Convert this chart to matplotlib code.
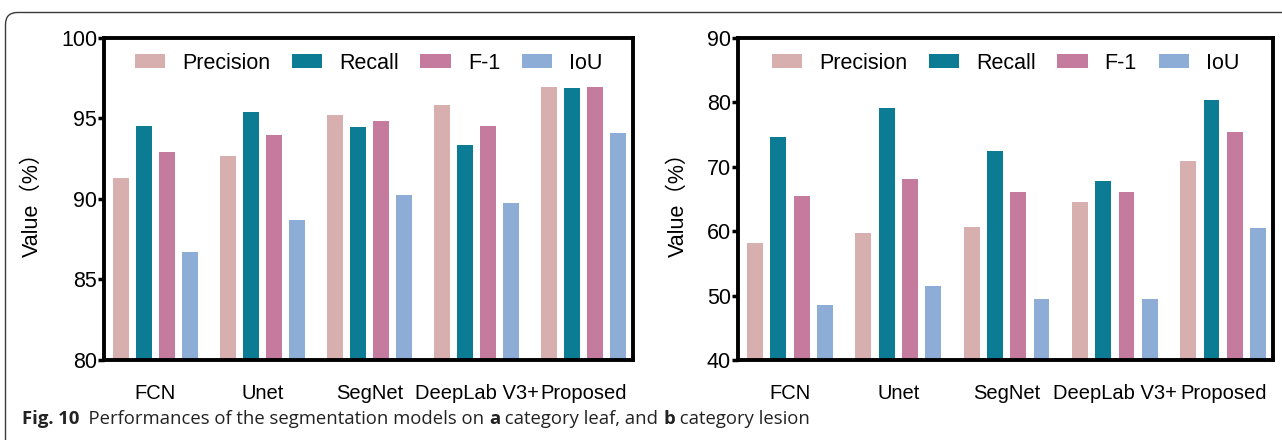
import numpy as np
import matplotlib.pyplot as plt
from matplotlib import font_manager
from matplotlib.patches import FancyBboxPatch

models = ["FCN", "Unet", "SegNet", "DeepLab V3+", "Proposed"]
metrics = ["Precision", "Recall", "F-1", "IoU"]
colors = ["#D7AFAF", "#0B7C94", "#C47B9D", "#8DACD6"]

# (a) category leaf
leaf_precision = [91.3, 92.7, 95.2, 95.85, 96.95]
leaf_recall = [94.55, 95.4, 94.5, 93.35, 96.9]
leaf_f1 = [92.9, 94.0, 94.85, 94.55, 96.95]
leaf_iou = [86.7, 88.7, 90.25, 89.75, 94.1]

# (b) category lesion
lesion_precision = [58.1, 59.7, 60.7, 64.6, 70.9]
lesion_recall = [74.7, 79.1, 72.5, 67.8, 80.3]
lesion_f1 = [65.4, 68.1, 66.1, 66.1, 75.4]
lesion_iou = [48.6, 51.5, 49.4, 49.4, 60.5]

caption = [("Fig. 10", "bold"), ("  Performances of the segmentation models on ", "normal"),
           ("a", "bold"), (" category leaf, and ", "normal"), ("b", "bold"),
           (" category lesion", "normal")]

installed = {f.name for f in font_manager.fontManager.ttflist}
base = "Liberation Sans Narrow" if "Liberation Sans Narrow" in installed else "Liberation Sans"
LAB = [base, "Noto Sans CJK SC", "DejaVu Sans"]

W, H = 1282, 440
fig = plt.figure(figsize=(W / 100, H / 100), dpi=100)

# outer rounded frame
bg = fig.add_axes([0, 0, 1, 1])
bg.set_xlim(0, W)
bg.set_ylim(H, 0)
bg.axis("off")
bg.add_patch(FancyBboxPatch((5.5, 12.5), W + 50, H + 50,
                            boxstyle="round,pad=0,rounding_size=12",
                            fc="none", ec="#3a3a3a", lw=1.0, clip_on=False))


def panel(rect, series, ylim, yticks):
    ax = fig.add_axes(rect)
    x = np.arange(len(models))
    pitch, width = 0.215, 0.146
    for k, (vals, name) in enumerate(zip(series, metrics)):
        ax.bar(x - 1.5 * pitch + k * pitch, vals, width, color=colors[k],
               label=name, zorder=2)
    ax.set_xlim(-0.48, 4.46)
    ax.set_ylim(*ylim)
    ax.set_yticks(yticks)
    ax.set_xticks(x)
    ax.set_xticklabels(models, family=LAB, fontsize=14.5)
    for lab in ax.get_yticklabels():
        lab.set_family(LAB)
        lab.set_fontsize(15.5)
    ax.tick_params(axis="x", length=0, pad=17)
    ax.tick_params(axis="y", length=4, width=2.5, pad=1, direction="out")
    for s in ax.spines.values():
        s.set_linewidth(2.8)
    ax.set_ylabel("Value（%）", family=LAB, fontsize=15.5, labelpad=13)
    ax.legend(loc="center", ncol=4, frameon=False,
              bbox_to_anchor=(0.5, 1 - 25 / 322), handlelength=1.4,
              handleheight=0.6, handletextpad=0.8, columnspacing=1.0,
              prop={"family": LAB, "size": 15.5})
    return ax


panel([104 / W, 80 / H, 529 / W, 322 / H],
      [leaf_precision, leaf_recall, leaf_f1, leaf_iou],
      (80, 100), [80, 85, 90, 95, 100])
panel([738 / W, 80 / H, 535 / W, 322 / H],
      [lesion_precision, lesion_recall, lesion_f1, lesion_iou],
      (40, 90), [40, 50, 60, 70, 80, 90])

# caption laid out piece by piece
renderer = fig.canvas.get_renderer()
xpos = 22
for txt, weight in caption:
    t = fig.text(xpos / W, 1 - 419 / H, txt, fontsize=13.3, va="center",
                 family="Open Sans", weight=weight, color="#222222")
    xpos += t.get_window_extent(renderer).width

fig.savefig("out.png", dpi=100)
